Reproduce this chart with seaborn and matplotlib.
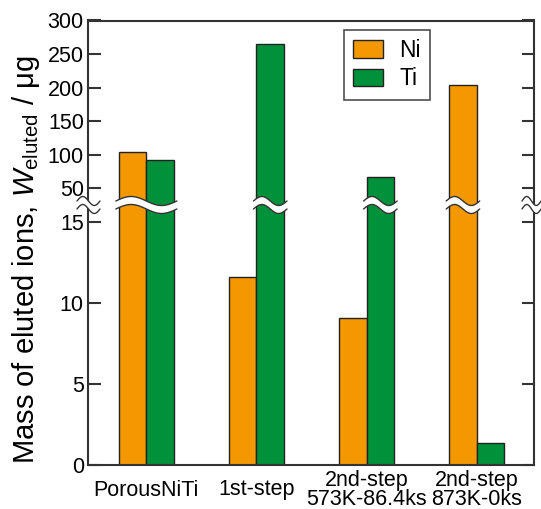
import numpy as np
import pandas as pd
import matplotlib
matplotlib.use("Agg")
import matplotlib.pyplot as plt
from matplotlib.patches import Polygon
from matplotlib.lines import Line2D
import seaborn as sns

categories = ['PorousNiTi', '1st-step', '2nd-step\n573K-86.4ks', '2nd-step\n873K-0ks']
ni_values = [104, 11.6, 9.1, 204.5]
ti_values = [91.5, 265, 66.5, 1.36]
series = ['Ni', 'Ti']
colors = ['#F39800', '#00913A']
upper_ticks = [50, 100, 150, 200, 250, 300]
lower_ticks = [0, 5, 10, 15]

df = pd.DataFrame({
    'category': categories * 2,
    'ion': ['Ni'] * len(categories) + ['Ti'] * len(categories),
    'value': ni_values + ti_values,
})

sns.set_style('white')
plt.rcParams['font.family'] = ['Liberation Sans', 'DejaVu Sans']
plt.rcParams['mathtext.fontset'] = 'custom'
plt.rcParams['mathtext.rm'] = 'Liberation Sans'
plt.rcParams['mathtext.it'] = 'Liberation Sans:italic'
plt.rcParams['text.color'] = 'black'
plt.rcParams['axes.labelcolor'] = 'black'

W, H = 541, 509
fig = plt.figure(figsize=(W / 100, H / 100), dpi=100)

left_px, right_px, top_px, bot_px, brk_px = 88, 534, 20.5, 465, 205
L = left_px / W
Wd = (right_px - left_px) / W
ax_top = fig.add_axes([L, 1 - brk_px / H, Wd, (brk_px - top_px) / H])
ax_bot = fig.add_axes([L, 1 - bot_px / H, Wd, (bot_px - brk_px) / H])

spine_color = '#333333'
for ax, show_legend in ((ax_top, True), (ax_bot, False)):
    sns.barplot(data=df, x='category', y='value', hue='ion', hue_order=series,
                palette=colors, width=0.5, edgecolor='#222222', linewidth=1.0,
                saturation=1, ax=ax, legend=show_legend, order=categories)
    ax.set_xlim(-0.53, 3.52)
    ax.set_xlabel('')
    ax.set_ylabel('')
    for s in ax.spines.values():
        s.set_color(spine_color)
        s.set_linewidth(1.5)
    ax.tick_params(axis='y', direction='in', length=9, width=1.5, color=spine_color,
                   labelcolor='black', right=True, left=True, labelsize=15.5, pad=3)

ax_top.set_ylim(25, 300)
ax_top.set_yticks(upper_ticks)
ax_top.spines['bottom'].set_visible(False)
ax_top.tick_params(axis='x', bottom=False, labelbottom=False)

ax_bot.set_ylim(0, 16.08)
ax_bot.set_yticks(lower_ticks)
ax_bot.spines['top'].set_visible(False)
ax_bot.tick_params(axis='x', length=0, labelsize=15.5, labelcolor='black', pad=18)
for lab in ax_bot.get_xticklabels():
    lab.set_va('center')
    lab.set_linespacing(0.88)

handles, labels = ax_top.get_legend_handles_labels()
leg = ax_top.legend(handles, labels, loc='upper left', bbox_to_anchor=(0.574, 0.951),
                    borderaxespad=0, fontsize=16.5, frameon=True, fancybox=False,
                    edgecolor='#222222', handlelength=1.3, handleheight=0.8,
                    labelspacing=0.25, handletextpad=0.7, borderpad=0.4)
leg.get_frame().set_linewidth(1.2)

fig.text(26 / W, 1 - 260 / H, 'Mass of eluted ions, $W_{\\mathrm{eluted}}$ / μg',
         rotation=90, ha='center', va='center', fontsize=21)

# wavy break marks
fig.canvas.draw()
ylow = ax_top.get_ylim()[0]
segs = []
for p in ax_top.patches:
    if p.get_height() > ylow:
        bb = p.get_window_extent()
        segs.append([bb.x0, bb.x1])
segs.sort()
merged = []
for s in segs:
    if merged and s[0] - merged[-1][1] < 2:
        merged[-1][1] = max(merged[-1][1], s[1])
    else:
        merged.append(list(s))
merged = [[a - 3, b + 3] for a, b in merged]
merged.append([77, 100])
merged.append([522, 541])

yc = H - brk_px  # display coords (origin bottom)
A, hh = 4.5, 4.0
for x0, x1 in merged:
    t = np.linspace(0, 1, 60)
    xs = x0 + (x1 - x0) * t
    off = A * np.sin(2 * np.pi * t)
    ytop = yc + hh + off
    ybot = yc - hh + off
    poly = np.column_stack([np.r_[xs, xs[::-1]], np.r_[ytop, ybot[::-1]]])
    polyf = fig.transFigure.inverted().transform(poly)
    fig.add_artist(Polygon(polyf, closed=True, facecolor='white', edgecolor='none',
                           transform=fig.transFigure, zorder=10))
    for yy in (ytop, ybot):
        pts = fig.transFigure.inverted().transform(np.column_stack([xs, yy]))
        fig.add_artist(Line2D(pts[:, 0], pts[:, 1], color='#333333', lw=1.0,
                              transform=fig.transFigure, zorder=11))

fig.savefig('out.png', dpi=100)
